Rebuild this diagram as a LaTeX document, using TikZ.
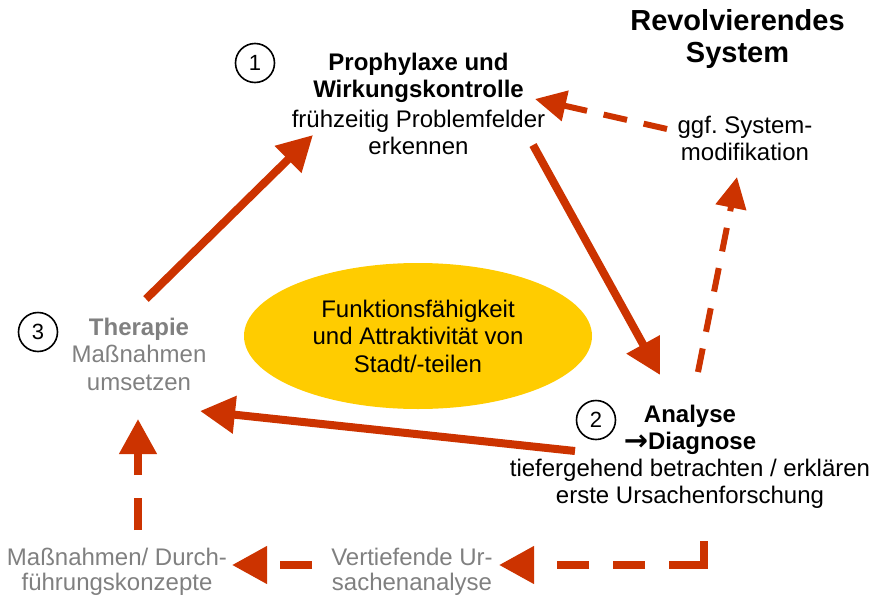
\documentclass[tikz,border=0pt]{standalone}
\usepackage{fontspec}
\setmainfont{Liberation Sans}
\newfontfamily\arrowfont{DejaVu Sans}
\usetikzlibrary{arrows.meta,shapes.geometric}
\definecolor{arr}{RGB}{204,51,0}
\definecolor{ell}{RGB}{255,204,0}
\definecolor{txtgray}{RGB}{128,128,128}
\frenchspacing
\begin{document}
\begin{tikzpicture}[x=1pt,y=-1pt,
  lbl/.style={align=center,inner sep=0pt,anchor=north,font=\fontsize{24pt}{27pt}\selectfont},
  titlelbl/.style={align=center,inner sep=0pt,anchor=north,font=\fontsize{29pt}{32pt}\selectfont\bfseries},
  numcirc/.style={circle,draw=black,line width=1.6pt,minimum size=39pt,inner sep=0pt,font=\fontsize{22pt}{24pt}\selectfont},
  corestyle/.style={ellipse,fill=ell,minimum width=348pt,minimum height=146pt,inner sep=0pt,align=center,font=\fontsize{24pt}{27.5pt}\selectfont},
  solidarrow/.style={draw=arr,line width=8pt,-{Triangle[length=35pt,width=36pt]}},
  thindash/.style={draw=arr,line width=6pt,dash pattern=on 24pt off 17pt,-{Triangle[length=31pt,width=30pt]}},
  thickdash/.style={draw=arr,line width=7.5pt,dash pattern=on 32pt off 24pt,-{Triangle[length=35pt,width=36pt]}}
]
\useasboundingbox (0,0) rectangle (871,600);

% title
\node[titlelbl] (title) at (737.5,8.8) {Revolvierendes\\System};

% central ellipse
\node[corestyle] (core) at (418,336) {Funktionsfähigkeit\\und Attraktivität von\\Stadt/-teilen};

% step 1
\node[numcirc] (c1) at (255,63) {1};
\node[lbl] (n1) at (418.5,52.5) {\textbf{Prophylaxe und}\\\textbf{Wirkungskontrolle}\\[3pt]frühzeitig Problemfelder\\erkennen};

% system modification
\node[lbl] (ggf) at (745,115.5) {ggf. System-\\modifikation};

% step 3
\node[numcirc] (c3) at (38,332) {3};
\node[lbl,text=txtgray,font=\fontsize{24pt}{27.5pt}\selectfont] (n3) at (139,317.5) {\textbf{Therapie}\\Maßnahmen\\umsetzen};

% step 2
\node[numcirc] (c2) at (596,420) {2};
\node[lbl] (n2) at (690,404.5) {\textbf{Analyse}\\{\arrowfont\bfseries\fontsize{29pt}{27pt}\selectfont\raisebox{-1pt}{→}}\textbf{Diagnose}\\tiefergehend betrachten / erklären\\erste Ursachenforschung};

% bottom row
\node[lbl,text=txtgray,font=\fontsize{24pt}{25pt}\selectfont] (mass) at (117,547.5) {Maßnahmen/ Durch-\\führungskonzepte};
\node[lbl,text=txtgray,font=\fontsize{24pt}{25pt}\selectfont] (vert) at (412,547.5) {Vertiefende Ur-\\sachenanalyse};

% connector end points
\coordinate (n3out) at (146,299);
\coordinate (n1in) at (313,135);
\coordinate (n1out) at (533,145);
\coordinate (n2in) at (660,375);
\coordinate (n2out) at (575,451);
\coordinate (n3in) at (200,411);
\coordinate (n2up) at (698,372);
\coordinate (ggfin) at (737,177);
\coordinate (ggfout) at (667,129);
\coordinate (n1right) at (535,99);
\coordinate (n2down) at (704,541);
\coordinate (vertin) at (499,565);
\coordinate (vertout) at (312,565);
\coordinate (massin) at (232,565);
\coordinate (massout) at (138,530);
\coordinate (n3low) at (138,419);

% solid cycle
\draw[solidarrow] (n3out) -- (n1in);
\draw[solidarrow] (n1out) -- (n2in);
\draw[solidarrow] (n2out) -- (n3in);

% dashed upper loop
\draw[thindash] (n2up) -- (ggfin);
\draw[thindash] (ggfout) -- (n1right);

% dashed lower loop
\draw[thickdash,dash pattern=on 59pt off 24pt on 32pt off 24pt on 32pt off 40pt] (n2down) |- (vertin);
\draw[thickdash] (vertout) -- (massin);
\draw[thickdash,dash pattern=on 32pt off 23pt] (massout) -- (n3low);
\end{tikzpicture}
\end{document}
